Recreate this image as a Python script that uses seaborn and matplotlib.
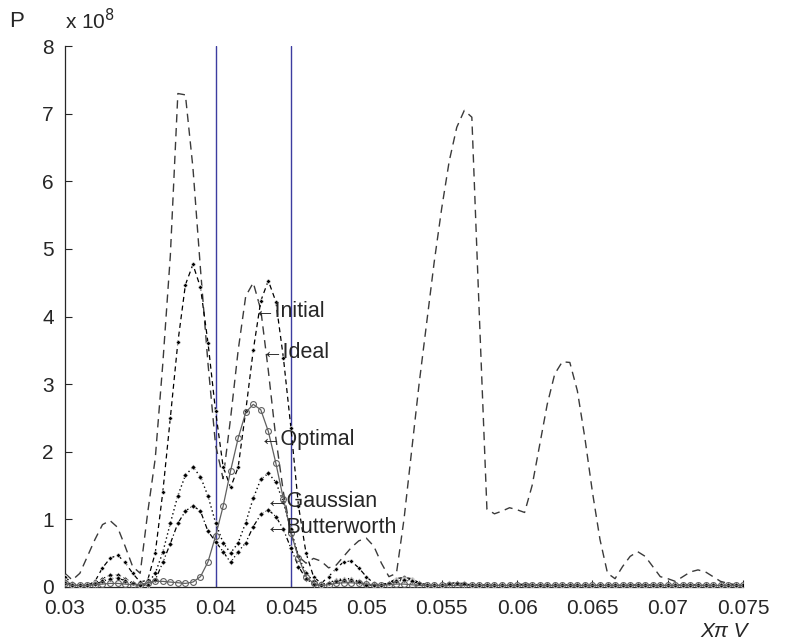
import numpy as np
import pandas as pd
import matplotlib
matplotlib.use("Agg")
import matplotlib.pyplot as plt
import seaborn as sns

# frequency grid (x pi V), step 0.0005
freq = [round(0.03 + 0.0005 * i, 5) for i in range(91)]

# power spectra, units of 1e8
initial = [
    0.2, 0.1, 0.2, 0.45, 0.7, 0.92, 0.98, 0.88, 0.6, 0.3,
    0.2, 1.1, 1.9, 3.3, 4.9, 7.3, 7.28, 6.2, 4.7, 3.3,
    2.1, 1.6, 2.5, 3.5, 4.3, 4.5, 4.1, 3.2, 2.2, 1.4,
    0.8, 0.45, 0.35, 0.42, 0.38, 0.28, 0.32, 0.45, 0.58, 0.68,
    0.72, 0.6, 0.35, 0.15, 0.2, 1.0, 2.0, 3.0, 3.9, 4.8,
    5.6, 6.3, 6.8, 7.05, 6.95, 4.0, 1.15, 1.08, 1.12, 1.17,
    1.14, 1.1, 1.5, 2.1, 2.7, 3.15, 3.33, 3.32, 2.9, 2.2,
    1.4, 0.7, 0.2, 0.12, 0.3, 0.45, 0.52, 0.45, 0.3, 0.15,
    0.12, 0.08, 0.15, 0.22, 0.25, 0.22, 0.15, 0.08, 0.05, 0.03, 0.03,
]
ideal = [
    0.15, 0.05, 0.02, 0.02, 0.08, 0.28, 0.42, 0.47, 0.36, 0.2,
    0.07, 0.1, 0.5, 1.4, 2.5, 3.62, 4.47, 4.77, 4.43, 3.61,
    2.6, 1.78, 1.47, 1.77, 2.6, 3.5, 4.23, 4.53, 4.22, 3.39,
    2.35, 1.2, 0.5, 0.15, 0.05, 0.15, 0.27, 0.37, 0.38, 0.28,
    0.15, 0.05, 0.02, 0.06, 0.12, 0.14, 0.12, 0.06, 0.03, 0.02,
    0.03, 0.05, 0.06, 0.04, 0.03, 0.03, 0.03, 0.02, 0.02, 0.02,
    0.03, 0.04, 0.03, 0.02, 0.02, 0.03, 0.03, 0.02, 0.02, 0.02,
    0.02, 0.03, 0.03, 0.02, 0.02, 0.02, 0.03, 0.03, 0.02, 0.02,
    0.02, 0.02, 0.03, 0.03, 0.02, 0.02, 0.02, 0.03, 0.02, 0.02, 0.02,
]
optimal = [
    0.05, 0.02, 0.02, 0.02, 0.03, 0.04, 0.05, 0.05, 0.04, 0.03,
    0.03, 0.06, 0.08, 0.08, 0.07, 0.06, 0.05, 0.07, 0.15, 0.37,
    0.75, 1.19, 1.72, 2.2, 2.58, 2.7, 2.62, 2.3, 1.83, 1.3,
    0.8, 0.43, 0.15, 0.05, 0.02, 0.03, 0.05, 0.06, 0.06, 0.05,
    0.04, 0.03, 0.02, 0.03, 0.04, 0.04, 0.03, 0.02, 0.02, 0.02,
    0.02, 0.02, 0.02, 0.02, 0.02, 0.02, 0.02, 0.02, 0.02, 0.02,
    0.02, 0.02, 0.02, 0.02, 0.02, 0.02, 0.02, 0.02, 0.02, 0.02,
    0.02, 0.02, 0.02, 0.02, 0.02, 0.02, 0.02, 0.02, 0.02, 0.02,
    0.02, 0.02, 0.02, 0.02, 0.02, 0.02, 0.02, 0.02, 0.02, 0.02, 0.02,
]
gaussian = [
    0.08, 0.03, 0.02, 0.02, 0.05, 0.12, 0.17, 0.18, 0.12, 0.06,
    0.03, 0.05, 0.2, 0.51, 0.94, 1.35, 1.65, 1.77, 1.63, 1.34,
    0.95, 0.65, 0.5, 0.65, 0.95, 1.31, 1.59, 1.68, 1.55, 1.25,
    0.85, 0.45, 0.2, 0.08, 0.03, 0.06, 0.1, 0.12, 0.12, 0.08,
    0.04, 0.02, 0.03, 0.06, 0.1, 0.12, 0.1, 0.06, 0.03, 0.02,
    0.03, 0.05, 0.06, 0.05, 0.03, 0.02, 0.02, 0.03, 0.03, 0.02,
    0.03, 0.04, 0.03, 0.02, 0.02, 0.03, 0.03, 0.02, 0.02, 0.02,
    0.02, 0.03, 0.03, 0.02, 0.02, 0.02, 0.03, 0.03, 0.02, 0.02,
    0.02, 0.02, 0.03, 0.03, 0.02, 0.02, 0.02, 0.03, 0.02, 0.02, 0.02,
]
butterworth = [
    0.06, 0.02, 0.02, 0.02, 0.04, 0.08, 0.12, 0.13, 0.09, 0.05,
    0.02, 0.03, 0.1, 0.36, 0.64, 0.94, 1.12, 1.2, 1.12, 0.82,
    0.67, 0.52, 0.36, 0.52, 0.65, 0.89, 1.07, 1.14, 1.04, 0.85,
    0.57, 0.3, 0.12, 0.04, 0.02, 0.05, 0.08, 0.1, 0.1, 0.07,
    0.03, 0.02, 0.03, 0.05, 0.08, 0.1, 0.08, 0.05, 0.03, 0.02,
    0.02, 0.04, 0.05, 0.04, 0.02, 0.02, 0.02, 0.02, 0.02, 0.02,
    0.02, 0.03, 0.02, 0.02, 0.02, 0.02, 0.02, 0.02, 0.02, 0.02,
    0.02, 0.02, 0.02, 0.02, 0.02, 0.02, 0.02, 0.02, 0.02, 0.02,
    0.02, 0.02, 0.02, 0.02, 0.02, 0.02, 0.02, 0.02, 0.02, 0.02, 0.02,
]

band_edges = [0.04, 0.045]

# label text, arrow-tip position (x, y)
labels = ["Initial", "Ideal", "Optimal", "Gaussian", "Butterworth"]
label_x = [0.04255, 0.04305, 0.0429, 0.04335, 0.04335]
label_y = [4.08, 3.47, 2.18, 1.26, 0.88]

xticks = [0.03, 0.035, 0.04, 0.045, 0.05, 0.055, 0.06, 0.065, 0.07, 0.075]
xtick_labels = ["0.03", "0.035", "0.04", "0.045", "0.05", "0.055",
                "0.06", "0.065", "0.07", "0.075"]

sns.set_style("ticks")
plt.rcParams["font.family"] = ["Liberation Sans", "DejaVu Sans"]
plt.rcParams["font.size"] = 15

df = pd.DataFrame({"freq": freq, "Initial": initial, "Ideal": ideal,
                   "Optimal": optimal, "Gaussian": gaussian,
                   "Butterworth": butterworth})

fig = plt.figure(figsize=(8, 6.42), dpi=100)
ax = fig.add_axes([0.081, 0.086, 0.848, 0.842])

for xe in band_edges:
    ax.axvline(xe, color="#3c3ca0", lw=1.0, zorder=1)

sns.lineplot(data=df, x="freq", y="Initial", ax=ax, color="#3a3a3a",
             lw=1.0, linestyle=(0, (6, 4)), zorder=2)
sns.lineplot(data=df, x="freq", y="Ideal", ax=ax, color="black",
             lw=0.9, linestyle=(0, (4, 3)), marker="D", markersize=2.6,
             markeredgewidth=0.5, zorder=3)
sns.lineplot(data=df, x="freq", y="Optimal", ax=ax, color="#606060",
             lw=0.9, marker="o", markersize=4.2, markerfacecolor="none",
             markeredgecolor="#606060", markeredgewidth=0.8, zorder=4)
sns.lineplot(data=df, x="freq", y="Gaussian", ax=ax, color="black",
             lw=1.0, linestyle=(0, (1, 2)), marker="D", markersize=2.8,
             markeredgewidth=0.5, zorder=3)
sns.lineplot(data=df, x="freq", y="Butterworth", ax=ax, color="black",
             lw=0.9, linestyle=(0, (4, 2, 1, 2)), marker="D", markersize=2.8,
             markeredgewidth=0.5, zorder=3)

for lab, lx, ly in zip(labels, label_x, label_y):
    ax.text(lx, ly, "\u2190" + lab, ha="left", va="center", fontsize=15.5,
            zorder=6)

ax.set_xlim(0.03, 0.075)
ax.set_ylim(0, 8)
ax.set_xticks(xticks)
ax.set_xticklabels(xtick_labels)
ax.set_yticks(range(9))
ax.tick_params(direction="in", length=5, labelsize=15, width=0.8)
ax.tick_params(axis="x", pad=9)
ax.tick_params(axis="y", pad=8)
ax.set_xlabel("")
ax.set_ylabel("")
for side in ["top", "right"]:
    ax.spines[side].set_visible(False)
for side in ["left", "bottom"]:
    ax.spines[side].set_linewidth(0.9)

fig.text(0.012, 0.958, "P", fontsize=16)
fig.text(0.081, 0.955, r"x 10$^{8}$", fontsize=15)
fig.text(0.876, 0.008, "X\u03c0 V", fontsize=15, style="italic")

plt.savefig("out.png", dpi=100)
plt.close()
